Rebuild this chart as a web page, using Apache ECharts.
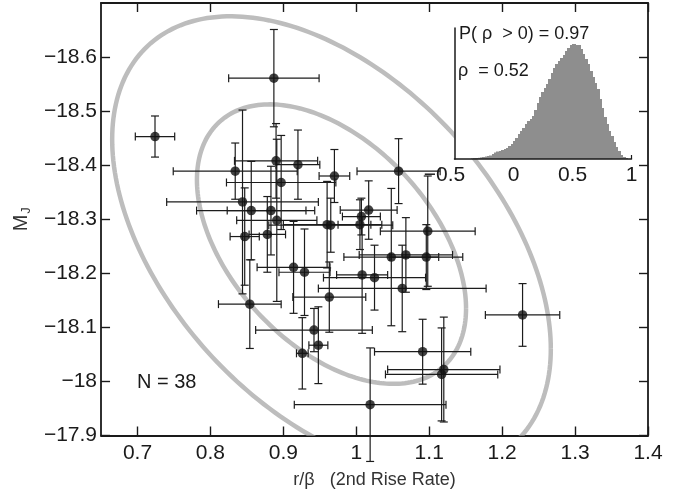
<!DOCTYPE html>
<html><head><meta charset="utf-8">
<script src="https://cdn.jsdelivr.net/npm/echarts@6/dist/echarts.min.js"></script>
<style>html,body{margin:0;padding:0;background:#fff}#c{width:676px;height:495px}</style>
</head><body><div id="c"></div>
<script>
// ---- data ----
const riseRate = [0.724,0.887,0.834,0.890,0.920,0.897,0.970,1.058,0.844,0.856,0.883,0.891,0.847,0.878,0.960,0.965,1.005,1.007,1.017,1.098,0.914,0.929,1.008,1.025,1.048,1.068,1.096,1.063,0.963,0.854,1.228,0.942,0.948,0.926,1.091,1.120,1.117,1.019];
const magJ = [-18.453,-18.561,-18.389,-18.408,-18.401,-18.368,-18.380,-18.389,-18.332,-18.316,-18.316,-18.298,-18.268,-18.272,-18.290,-18.289,-18.290,-18.305,-18.317,-18.278,-18.211,-18.202,-18.197,-18.192,-18.230,-18.234,-18.230,-18.172,-18.156,-18.143,-18.123,-18.095,-18.067,-18.052,-18.055,-18.022,-18.013,-17.957];
const riseRateErr = [0.027,0.062,0.085,0.057,0.030,0.075,0.021,0.057,0.104,0.075,0.060,0.055,0.020,0.025,0.060,0.085,0.030,0.026,0.039,0.065,0.050,0.035,0.035,0.070,0.065,0.064,0.050,0.115,0.050,0.043,0.051,0.080,0.013,0.008,0.066,0.077,0.077,0.104];
const magJErr = [0.038,0.090,0.052,0.069,0.064,0.087,0.049,0.060,0.170,0.091,0.082,0.150,0.090,0.070,0.080,0.050,0.046,0.034,0.054,0.102,0.085,0.080,0.108,0.060,0.127,0.069,0.060,0.080,0.065,0.082,0.058,0.040,0.071,0.066,0.060,0.097,0.086,0.105];

// confidence ellipses: centre, 1-sigma widths, correlation, scale of each contour
const ellipseCenter = [0.966, -18.254];
const ellipseSigma = [0.1845, 0.2585];
const ellipseRho = 0.46;
const ellipseScales = [1.0, 1.63];

// inset histogram of rho (bin centres, bin width 0.02)
const rhoBins = [-0.35,-0.33,-0.31,-0.29,-0.27,-0.25,-0.23,-0.21,-0.19,-0.17,-0.15,-0.13,-0.11,-0.09,-0.07,-0.05,-0.03,-0.01,0.01,0.03,0.05,0.07,0.09,0.11,0.13,0.15,0.17,0.19,0.21,0.23,0.25,0.27,0.29,0.31,0.33,0.35,0.37,0.39,0.41,0.43,0.45,0.47,0.49,0.51,0.53,0.55,0.57,0.59,0.61,0.63,0.65,0.67,0.69,0.71,0.73,0.75,0.77,0.79,0.81,0.83,0.85,0.87,0.89,0.91,0.93,0.95];
const rhoCounts = [0.5,0.8,1.0,1.2,1.5,2,2.5,3,3.5,5,6.5,7.5,8,9,10,11,13,15,18,21,25,28,31,35,38,40,43,49,56,62,67,71,75,80,86,91,95,98,101,104,108,111,114,115,114,114,110,105,100,95,88,82,76,70,60,51,42,35,28,23,17,12,8,4,2,1];
const rhoBinWidth = 0.02;

const xTicks = [0.7,0.8,0.9,1.0,1.1,1.2,1.3,1.4];
const yTicks = [-18.6,-18.5,-18.4,-18.3,-18.2,-18.1,-18.0,-17.9];
const insetTicks = [-0.5,0,0.5,1];

// ---- chart ----
const FONT = 'Liberation Sans, Arial, Helvetica, sans-serif';
const minus = v => v < 0 ? '\u2212' + (Math.round(-v*10)/10) : String(Math.round(v*10)/10);
const axisLineStyle = {color:'#1a1a1a', width:1.8};

const chart = echarts.init(document.getElementById('c'), null, {renderer:'canvas'});

const pointData = riseRate.map((x,i)=>[x, magJ[i]]);
const errData = riseRate.map((x,i)=>[x, magJ[i], riseRateErr[i], magJErr[i]]);
const histData = rhoBins.map((b,i)=>[b, rhoCounts[i]]);

function mainX(extra){ return Object.assign({type:'value', gridIndex:0, min:0.65, max:1.4, splitLine:{show:false}, axisLine:{show:true, onZero:false, lineStyle:axisLineStyle}}, extra); }
function mainY(extra){ return Object.assign({type:'value', gridIndex:0, min:-18.7, max:-17.9, inverse:true, splitLine:{show:false}, axisLine:{show:true, onZero:false, lineStyle:axisLineStyle}}, extra); }

const option = {
  backgroundColor:'#fff',
  animation:false,
  textStyle:{fontFamily:FONT},
  grid:[
    {left:101, right:28, top:3, bottom:59.5},
    {left:454.5, top:28, width:177, height:131, show:true, backgroundColor:'#fff', borderWidth:0, z:5}
  ],
  xAxis:[
    mainX({position:'bottom',
      axisTick:{show:true, inside:true, length:9, customValues:xTicks, lineStyle:{color:'#1a1a1a', width:1.4}},
      axisLabel:{show:true, customValues:xTicks, fontSize:21, color:'#1a1a1a', margin:7, fontFamily:FONT, formatter:v=>minus(v)},
      name:'r/\u03b2   (2nd Rise Rate)', nameLocation:'middle', nameGap:36,
      nameTextStyle:{fontSize:18, color:'#333', fontFamily:FONT}}),
    mainX({position:'top',
      axisTick:{show:true, inside:true, length:9, customValues:xTicks, lineStyle:{color:'#1a1a1a', width:1.4}},
      axisLabel:{show:false}}),
    {type:'value', gridIndex:1, min:-0.5, max:1, position:'bottom', z:7,
      splitLine:{show:false}, axisLine:{show:true, onZero:false, lineStyle:{color:'#1a1a1a', width:1.5}},
      axisTick:{show:true, inside:true, length:4, customValues:[1], lineStyle:{color:'#1a1a1a', width:1.2}},
      axisLabel:{show:true, customValues:insetTicks, fontSize:21, color:'#1a1a1a', margin:6, fontFamily:FONT,
        formatter:v=>v<0?'{s|\u2212'+(-v)+'}':String(v),
        rich:{s:{fontSize:21, color:'#1a1a1a', fontFamily:FONT, padding:[0,20,0,0]}}}}
  ],
  yAxis:[
    mainY({position:'left',
      axisTick:{show:true, inside:true, length:9, customValues:yTicks, lineStyle:{color:'#1a1a1a', width:1.4}},
      axisLabel:{show:true, customValues:yTicks, fontSize:21, color:'#1a1a1a', margin:4, fontFamily:FONT, formatter:v=>minus(v)},
      name:'{m|M}{j|J}', nameLocation:'middle', nameGap:67, nameRotate:90,
      nameTextStyle:{fontFamily:FONT, color:'#333', rich:{m:{fontSize:20, color:'#333', fontFamily:FONT, lineHeight:24, verticalAlign:'middle'}, j:{fontSize:13, color:'#333', fontFamily:FONT, lineHeight:13, verticalAlign:'bottom', padding:[12,0,0,1]}}}}),
    mainY({position:'right',
      axisTick:{show:true, inside:true, length:9, customValues:yTicks, lineStyle:{color:'#1a1a1a', width:1.4}},
      axisLabel:{show:false}}),
    {type:'value', gridIndex:1, min:0, max:131, position:'left', z:7,
      splitLine:{show:false}, axisLine:{show:true, onZero:false, lineStyle:{color:'#1a1a1a', width:1.5}},
      axisTick:{show:false}, axisLabel:{show:false}}
  ],
  series:[
    {type:'custom', xAxisIndex:0, yAxisIndex:0, z:1, clip:true, silent:true,
      data: ellipseScales.map(k=>[ellipseCenter[0], ellipseCenter[1], k]),
      encode:{x:0, y:1},
      renderItem:(params, api)=>{
        const k = api.value(2);
        const pts = [];
        const r2 = Math.sqrt(1-ellipseRho*ellipseRho);
        for(let i=0;i<=240;i++){
          const t = i/240*2*Math.PI;
          const x = ellipseCenter[0] + k*ellipseSigma[0]*Math.cos(t);
          const y = ellipseCenter[1] + k*ellipseSigma[1]*(ellipseRho*Math.cos(t) + r2*Math.sin(t));
          pts.push(api.coord([x,y]));
        }
        return {type:'polyline', shape:{points:pts}, style:{stroke:'#bdbdbd', lineWidth:4.5, fill:null}};
      }},
    {type:'custom', xAxisIndex:0, yAxisIndex:0, z:3, clip:false, silent:true,
      data: errData, encode:{x:0, y:1},
      renderItem:(params, api)=>{
        const x=api.value(0), y=api.value(1), ex=api.value(2), ey=api.value(3);
        const L=api.coord([x-ex,y]), R=api.coord([x+ex,y]), T=api.coord([x,y-ey]), B=api.coord([x,y+ey]);
        const c=4, st={stroke:'#1c1c1c', lineWidth:1.2};
        const ln=(a,b,d,e)=>({type:'line', shape:{x1:a,y1:b,x2:d,y2:e}, style:st});
        return {type:'group', children:[
          ln(L[0],L[1],R[0],R[1]), ln(L[0],L[1]-c,L[0],L[1]+c), ln(R[0],R[1]-c,R[0],R[1]+c),
          ln(T[0],T[1],B[0],B[1]), ln(T[0]-c,T[1],T[0]+c,T[1]), ln(B[0]-c,B[1],B[0]+c,B[1])
        ]};
      }},
    {type:'scatter', xAxisIndex:0, yAxisIndex:0, z:4, symbol:'circle', symbolSize:9.5,
      itemStyle:{color:'#111'}, data:pointData},
    {type:'custom', xAxisIndex:2, yAxisIndex:2, z:6, silent:true,
      data: histData, encode:{x:0, y:1},
      renderItem:(params, api)=>{
        const c=api.value(0), h=api.value(1);
        const a=api.coord([c-rhoBinWidth/2, h]), b=api.coord([c+rhoBinWidth/2, 0]);
        return {type:'rect', shape:{x:Math.floor(a[0]), y:a[1], width:Math.ceil(b[0]-a[0])+1, height:b[1]-a[1]}, style:{fill:'#8e8e8e', stroke:null}};
      }}
  ],
  graphic:[
    {type:'text', x:137, y:382, z:20, style:{text:'N = 38', font:'20px '+FONT, fill:'#1a1a1a', verticalAlign:'middle'}},
    {type:'text', x:459, y:34.5, z:20, style:{text:'P( \u03c1  > 0) = 0.97', font:'18px '+FONT, fill:'#1a1a1a', verticalAlign:'middle'}},
    {type:'text', x:458, y:71, z:20, style:{text:'\u03c1  = 0.52', font:'18px '+FONT, fill:'#1a1a1a', verticalAlign:'middle'}}
  ]
};
chart.setOption(option);
</script></body></html>
